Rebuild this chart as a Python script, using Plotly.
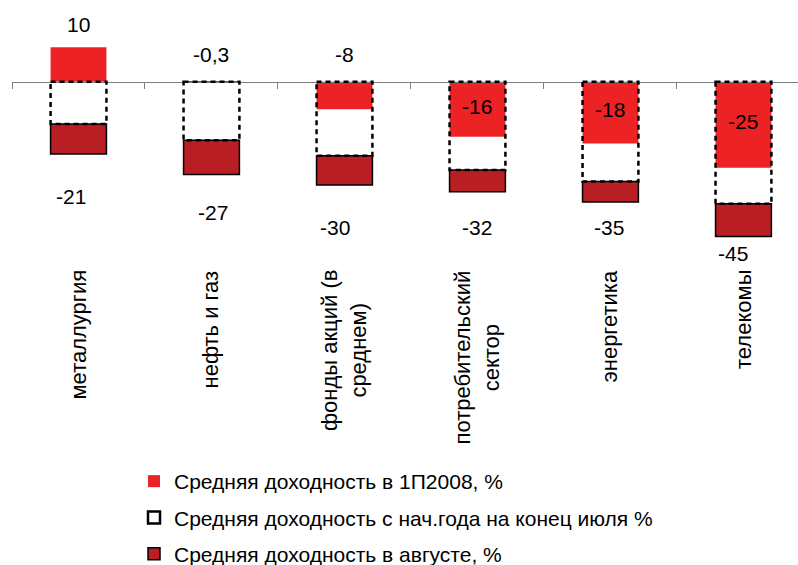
import plotly.graph_objects as go

# Sector returns, %
categories = ["металлургия", "нефть и газ", "фонды акций (в<br>среднем)",
              "потребительский<br>сектор", "энергетика", "телекомы"]
h1_2008 = [10, -0.3, -8, -16, -18, -25]                # 1H2008
ytd_end_july = [-12.3, -17, -21.5, -25.7, -29, -35.5]  # YTD at end of July
ytd_end_aug = [-21, -27, -30, -32, -35, -45]           # YTD including August

names = ["Средняя доходность в 1П2008, %",
         "Средняя доходность с нач.года на конец июля %",
         "Средняя доходность в августе, %"]

RED = "rgb(237,34,36)"
DARK = "rgb(185,30,36)"
FONT = "Liberation Sans, Arial, sans-serif"
W, H = 798, 565
BAR_W = 0.42

# plot area in pixels
top_px, bot_px, left_px = 10, 258, 12
y_range = [-51.25, 20.84]
x_range = [-0.5, 5.41]

idx = list(range(len(categories)))
august = [t - j for t, j in zip(ytd_end_aug, ytd_end_july)]

fig = go.Figure()
fig.add_bar(x=idx, y=h1_2008, base=0, width=BAR_W, name=names[0],
            marker=dict(color=RED, line=dict(width=0)),
            legendrank=1, legendgroup="a", hoverinfo="skip")
fig.add_bar(x=idx, y=august, base=ytd_end_july, width=BAR_W, name=names[2],
            marker=dict(color=DARK, line=dict(color="black", width=1.5)),
            legendrank=3, legendgroup="c", hoverinfo="skip")

# dashed outlines for the end-of-July values
for i, v in enumerate(ytd_end_july):
    fig.add_shape(type="rect", xref="x", yref="y",
                  x0=i - BAR_W / 2, x1=i + BAR_W / 2, y0=0, y1=v,
                  line=dict(color="black", width=2.5, dash="5px,4px"),
                  fillcolor="rgba(0,0,0,0)", layer="above",
                  showlegend=(i == 0), name=names[1], legendgroup="b",
                  legendrank=2)

annotations = []
# labels for the 1H2008 bars
for i, v in enumerate(h1_2008):
    txt = f"{v:g}".replace(".", ",")
    if v > 0:
        y, ys = v, 23
    elif v > -10:
        y, ys = 0, 27
    else:
        y, ys = v / 2, 3
    annotations.append(dict(x=i, y=y, xref="x", yref="y", text=txt,
                            showarrow=False, yanchor="middle", yshift=ys,
                            font=dict(size=21, color="black", family=FONT)))

# labels for the August totals
dark_shift_y = [43, 38, 43, 36, 25, 17]
dark_shift_x = [-8, 2, -9, 0, -1, -10]
for i, v in enumerate(ytd_end_aug):
    annotations.append(dict(x=i, y=v, xref="x", yref="y", text=f"{v:g}",
                            showarrow=False, yanchor="middle",
                            yshift=-dark_shift_y[i], xshift=dark_shift_x[i],
                            font=dict(size=21, color="black", family=FONT)))

# category names, rotated
for i, c in enumerate(categories):
    annotations.append(dict(x=i, y=1 - 268 / H, xref="x", yref="paper",
                            text=c, showarrow=False, textangle=-90,
                            yanchor="top", xanchor="center", align="center",
                            font=dict(size=22, color="black", family=FONT)))

zero_pos = (1 - bot_px / H) + (0 - y_range[0]) / (y_range[1] - y_range[0]) * ((bot_px - top_px) / H)

fig.update_layout(
    width=W, height=H,
    margin=dict(l=0, r=0, t=0, b=0, autoexpand=False),
    paper_bgcolor="white", plot_bgcolor="white",
    barmode="overlay",
    font=dict(family=FONT, size=20, color="black"),
    xaxis=dict(domain=[left_px / W, 1], range=x_range,
               tickmode="array", tickvals=[i + 0.5 for i in [-1] + idx],
               showticklabels=False, ticks="outside", ticklen=6,
               tickcolor="rgb(128,128,128)", showline=True,
               linecolor="rgb(128,128,128)", linewidth=1,
               anchor="free", position=zero_pos,
               showgrid=False, zeroline=False, fixedrange=True),
    yaxis=dict(domain=[1 - bot_px / H, 1 - top_px / H], range=y_range,
               visible=False, fixedrange=True),
    showlegend=True,
    legend=dict(x=134 / W, y=1 - 461 / H, xanchor="left", yanchor="top",
                orientation="v", traceorder="grouped", tracegroupgap=6,
                font=dict(size=21, family=FONT, color="black"),
                bgcolor="rgba(0,0,0,0)"),
    annotations=annotations,
)

fig.write_html("out.html")
